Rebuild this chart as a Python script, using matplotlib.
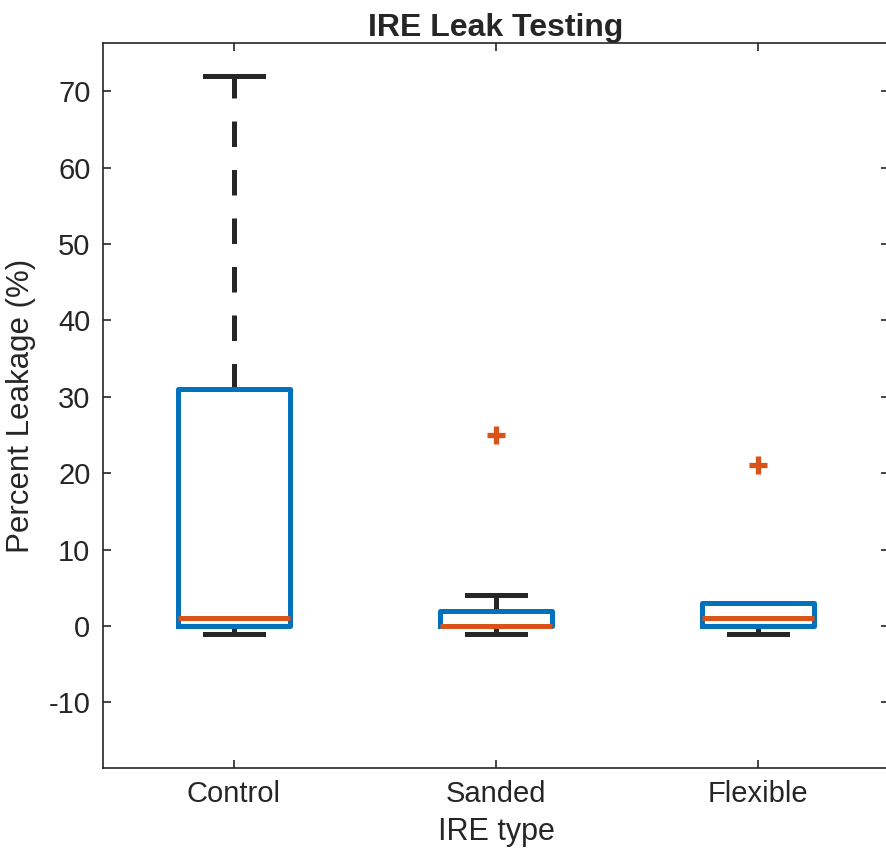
import matplotlib
matplotlib.use('Agg')
from matplotlib import pyplot as plt

# box statistics
groups = ['Control', 'Sanded', 'Flexible']
q1 = [0, 0, 0]
med = [1, 0, 1]
q3 = [31, 2, 3]
whislo = [-1, -1, -1]
whishi = [72, 4, 3]
fliers = [[], [25], [21]]

blue = '#0072BD'
orange = '#D95319'
dark = '#262626'

plt.rcParams['font.family'] = ['Liberation Sans', 'DejaVu Sans']
plt.rcParams['axes.unicode_minus'] = False

fig = plt.figure(figsize=(8.87, 8.56), dpi=100)
ax = fig.add_axes([103 / 887, 1 - 768 / 856, 786 / 887, 725 / 856])

stats = []
for i in range(len(groups)):
    stats.append({'label': groups[i], 'q1': q1[i], 'med': med[i], 'q3': q3[i],
                  'whislo': whislo[i], 'whishi': whishi[i], 'fliers': fliers[i]})

ax.bxp(stats, positions=[1, 2, 3], widths=0.43, capwidths=0.22,
       boxprops=dict(color=blue, linewidth=3.6, solid_joinstyle='round', zorder=3),
       medianprops=dict(color=orange, linewidth=3.6, solid_capstyle='butt', zorder=4),
       whiskerprops=dict(color=dark, linewidth=3.6, linestyle=(0, (5.1, 4.6)), zorder=2),
       capprops=dict(color=dark, linewidth=3.6, zorder=2),
       flierprops=dict(marker='+', markeredgecolor=orange, markersize=13,
                       markeredgewidth=3.8, linestyle='none'))

ax.set_xlim(0.5, 3.5)
ax.set_ylim(-18.6, 76.3)
ax.set_yticks([-10, 0, 10, 20, 30, 40, 50, 60, 70])
ax.set_xticks([1, 2, 3])
ax.set_xticklabels(groups)

for s in ax.spines.values():
    s.set_color(dark)
    s.set_linewidth(1.2)
ax.tick_params(direction='in', length=6, width=1.2, color=dark, labelcolor=dark,
               labelsize=21, top=True, right=True, pad=9)

ax.set_title('IRE Leak Testing', fontsize=23, fontweight='bold', color=dark, pad=5)
ax.set_xlabel('IRE type', fontsize=22, color=dark, labelpad=6)
ax.set_ylabel('Percent Leakage (%)', fontsize=22.5, color=dark)
ax.yaxis.set_label_coords(-0.085, 0.5)

plt.savefig('out.png', dpi=100)
